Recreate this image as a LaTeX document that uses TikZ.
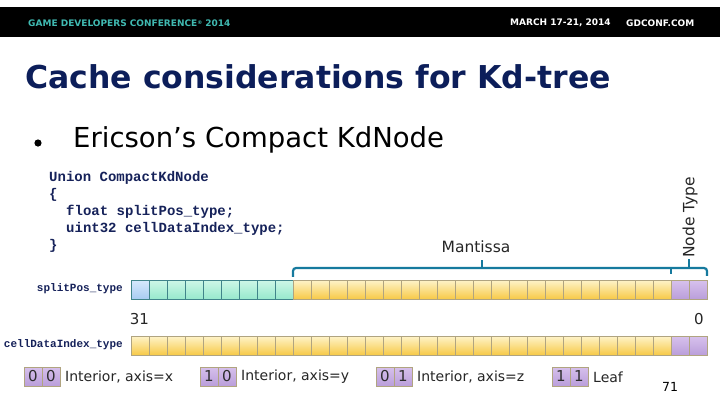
\documentclass[tikz,border=0pt]{standalone}
\usepackage{fontspec}
\setmainfont{DejaVu Sans}
\newfontfamily\codefont{Liberation Mono}
\usetikzlibrary{calc}
\definecolor{navy}{RGB}{12,30,90}
\definecolor{codec}{RGB}{22,34,90}
\definecolor{gdcteal}{RGB}{64,186,178}
\definecolor{bracec}{RGB}{22,122,158}
\definecolor{ytop}{RGB}{254,242,196}
\definecolor{ybot}{RGB}{247,201,70}
\definecolor{ptop}{RGB}{214,192,236}
\definecolor{pbot}{RGB}{186,158,218}
\definecolor{ttop}{RGB}{204,247,230}
\definecolor{tbot}{RGB}{150,232,204}
\definecolor{btop}{RGB}{212,232,252}
\definecolor{bbot}{RGB}{168,204,242}
\definecolor{cellline}{RGB}{176,164,128}
\definecolor{tealline}{RGB}{64,132,138}
\definecolor{digitc}{RGB}{45,45,45}
\tikzset{
  cellbase/.style={minimum width=18pt, minimum height=18.5pt, inner sep=0pt, outer sep=0pt, line width=0.6pt},
  yelcell/.style={cellbase, top color=ytop, bottom color=ybot, draw=cellline},
  purcell/.style={cellbase, top color=ptop, bottom color=pbot, draw=cellline},
  tealcell/.style={cellbase, top color=ttop, bottom color=tbot, draw=tealline},
  bluecell/.style={cellbase, top color=btop, bottom color=bbot, draw=tealline},
  legcell/.style={purcell, minimum height=19pt, font=\fontsize{15}{15}\selectfont, text=digitc},
  legtext/.style={anchor=west, inner sep=0pt, font=\fontsize{14}{14}\selectfont, text=black!85},
  codeline/.style={anchor=west, inner sep=0pt, font=\codefont\bfseries\fontsize{14}{14}\selectfont, text=codec},
  rowlabel/.style={anchor=east, inner sep=0pt, font=\codefont\bfseries\fontsize{11}{11}\selectfont, text=codec},
  bracepath/.style={draw=bracec, line width=2.2pt},
  hdr/.style={inner sep=0pt, font=\bfseries\fontsize{9}{9}\selectfont}
}
\begin{document}
\begin{tikzpicture}[x=1pt,y=-1pt]
\useasboundingbox (0,0) rectangle (720,405);
\fill[white] (0,0) rectangle (720,405);
% header
\fill[black] (0,7) rectangle (720,37);
\node[hdr, anchor=west, text=gdcteal] (hdrl) at (28,23) {GAME DEVELOPERS CONFERENCE\raisebox{2pt}{\fontsize{5}{5}\selectfont ®} 2014};
\node[hdr, anchor=west, text=white] (hdrd) at (510,23) {MARCH 17-21, 2014};
\node[hdr, anchor=west, text=white] (hdrw) at (626,23) {GDCONF.COM};
% title
\node[anchor=west, inner sep=0pt, text=navy, font=\bfseries\fontsize{31.5}{31.5}\selectfont] (title) at (25,77) {Cache considerations for Kd-tree};
% bullet
\fill[black] (38,143) circle (3.6);
\node[anchor=west, inner sep=0pt, font=\fontsize{27.5}{27.5}\selectfont] (bullet) at (73,140) {Ericson’s Compact KdNode};
% code
\node[codeline] (c1) at (49,178) {Union CompactKdNode};
\node[codeline] (c2) at (49,195) {\{};
\node[codeline] (c3) at (66,212) {float splitPos\_type;};
\node[codeline] (c4) at (66,229) {uint32 cellDataIndex\_type;};
\node[codeline] (c5) at (49,246) {\}};
% bit rows
\foreach \i in {0,...,31}{
  \ifnum\i=0 \def\st{bluecell}\else\ifnum\i<9 \def\st{tealcell}\else\ifnum\i<30 \def\st{yelcell}\else\def\st{purcell}\fi\fi\fi
  \node[\st] (a\i) at ({140+18*\i},290) {};
  \ifnum\i<30 \def\su{yelcell}\else\def\su{purcell}\fi
  \node[\su] (b\i) at ({140+18*\i},346) {};
}
\node[rowlabel] (lab1) at (123,289) {splitPos\_type};
\node[rowlabel] (lab2) at (123,345) {cellDataIndex\_type};
\node[inner sep=0pt, font=\fontsize{15}{15}\selectfont, text=black!85] (n31) at (139.5,319) {31};
\node[inner sep=0pt, font=\fontsize{15}{15}\selectfont, text=black!85] (n0) at (699,319) {0};
% braces
\coordinate (bl) at ($(a9.north west)+(0,-4)$);
\coordinate (bm) at (482,268);
\coordinate (bj) at ($(a30.north west)+(0,-7)$);
\coordinate (br) at ($(a31.north east)+(0,-5)$);
\coordinate (bn) at (689,268);
\draw[bracepath, rounded corners=3pt] (bl) -- (bl |- bm) -- (br |- bm) -- (br);
\draw[bracepath] (bj |- bm) -- (bj);
\draw[bracepath] (bm) -- ++(0,-8) coordinate (bmt);
\draw[bracepath] (bn) -- ++(0,-9) coordinate (bnt);
\node[anchor=south, inner sep=0pt, font=\fontsize{15.5}{15.5}\selectfont, text=black!85] (mant) at (476,253) {Mantissa};
\node[rotate=90, anchor=west, inner sep=0pt, font=\fontsize{15.5}{15.5}\selectfont, text=black!85] (ntype) at (690,258) {Node Type};
% legend
\node[legcell] (l1a) at (33,376.5) {0};
\node[legcell] (l1b) at (51,376.5) {0};
\node[legtext] (t1) at (65,377) {Interior, axis=x};
\node[legcell] (l2a) at (209,376.5) {1};
\node[legcell] (l2b) at (227,376.5) {0};
\node[legtext] (t2) at (241,377) {Interior, axis=y};
\node[legcell] (l3a) at (385,376.5) {0};
\node[legcell] (l3b) at (403,376.5) {1};
\node[legtext] (t3) at (417,377) {Interior, axis=z};
\node[legcell] (l4a) at (561,376.5) {1};
\node[legcell] (l4b) at (579,376.5) {1};
\node[legtext] (t4) at (593,377) {Leaf};
\node[inner sep=0pt, font=\fontsize{12.5}{12.5}\selectfont] (pg) at (670,387) {71};
\end{tikzpicture}
\end{document}
